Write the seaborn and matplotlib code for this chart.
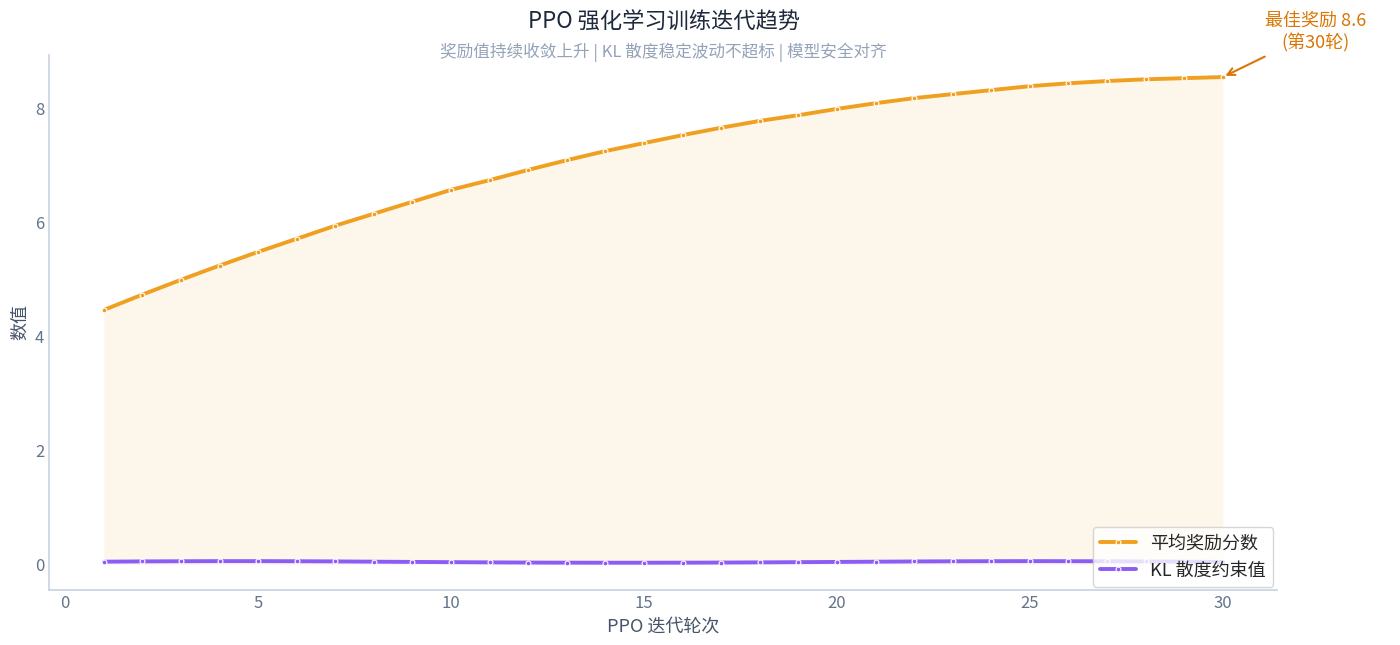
import numpy as np
import pandas as pd
import seaborn as sns
import matplotlib.pyplot as plt

iters = list(range(1, 31))
reward = [4.47, 4.74, 5.00, 5.25, 5.49, 5.72, 5.95, 6.16, 6.37, 6.58,
          6.75, 6.93, 7.10, 7.26, 7.40, 7.54, 7.67, 7.79, 7.89, 8.00,
          8.10, 8.19, 8.26, 8.33, 8.40, 8.45, 8.49, 8.52, 8.54, 8.56]
kl = [0.05, 0.055, 0.058, 0.06, 0.06, 0.058, 0.055, 0.05, 0.046, 0.042,
      0.038, 0.035, 0.033, 0.032, 0.032, 0.033, 0.035, 0.038, 0.042, 0.046,
      0.05, 0.054, 0.057, 0.059, 0.06, 0.059, 0.057, 0.054, 0.05, 0.046]
series_names = ["平均奖励分数", "KL 散度约束值"]
colors = ["#f0a020", "#8b5cf6"]

sns.set_theme(style="white")
plt.rcParams['font.family'] = ['Noto Sans CJK SC', 'DejaVu Sans']

df = pd.DataFrame({"iter": iters * 2, "value": reward + kl,
                   "series": [series_names[0]] * 30 + [series_names[1]] * 30})

fig, ax = plt.subplots(figsize=(14, 6.45), dpi=100)
ax.fill_between(iters, reward, 0, color="#fdf1dc", alpha=0.6, lw=0)
sns.lineplot(data=df, x="iter", y="value", hue="series", palette=colors,
             marker="o", markersize=3.5, markeredgecolor="white", markeredgewidth=0.8,
             linewidth=2.8, ax=ax)

ax.set_xlim(-0.42, 31.4)
ax.set_ylim(-0.45, 8.95)
ax.set_xticks([0, 5, 10, 15, 20, 25, 30])
ax.set_yticks([0, 2, 4, 6, 8])
ax.tick_params(colors="#64748b", labelsize=12, length=0)
for s in ["top", "right"]:
    ax.spines[s].set_visible(False)
for s in ["left", "bottom"]:
    ax.spines[s].set_color("#cbd5e1")
ax.set_xlabel("PPO 迭代轮次", fontsize=13, color="#475569")
ax.set_ylabel("数值", fontsize=13, color="#475569")

fig.text(0.474, 0.955, "PPO 强化学习训练迭代趋势", ha="center", fontsize=16, color="#1e293b")
fig.text(0.474, 0.912, "奖励值持续收敛上升 | KL 散度稳定波动不超标 | 模型安全对齐", ha="center",
         fontsize=12, color="#94a3b8")

ax.annotate("最佳奖励 8.6\n(第30轮)", xy=(30, reward[-1]), xytext=(32.4, 9.35),
            ha="center", va="center", fontsize=13, color="#d97706",
            arrowprops=dict(arrowstyle="->", color="#d97706", lw=1.5), annotation_clip=False)

leg = ax.legend(loc="lower right", fontsize=13, frameon=True, borderaxespad=0.2)
leg.set_title(None)

plt.subplots_adjust(left=0.035, right=0.912, top=0.915, bottom=0.085)
fig.savefig("out.png", dpi=100)
